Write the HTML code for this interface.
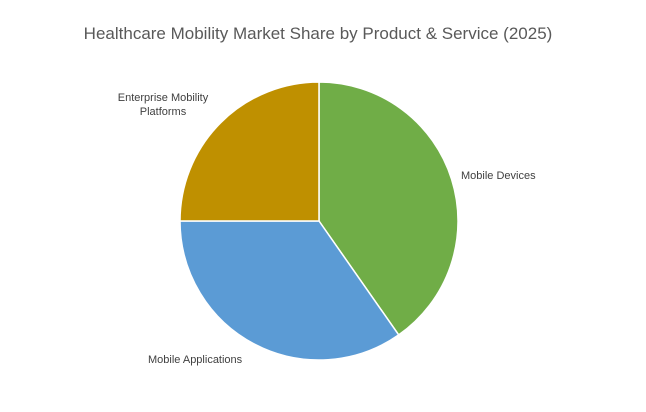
<!DOCTYPE html>
<html><head><meta charset="utf-8"><style>
body{margin:0;background:#fff;}
svg{display:block;font-family:"Liberation Sans",sans-serif;}
</style></head><body>
<svg width="646" height="412" viewBox="0 0 646 412">
<rect width="646" height="412" fill="#fff"/>
<text x="318" y="39" text-anchor="middle" font-size="17" fill="#595959">Healthcare Mobility Market Share by Product &amp; Service (2025)</text>
<g stroke="#fff" stroke-width="1.5">
<path d="M319,221 L319,82 A139,139 0 0 1 398.7,334.9 Z" fill="#70AD47"/>
<path d="M319,221 L398.7,334.9 A139,139 0 0 1 180,221 Z" fill="#5B9BD5"/>
<path d="M319,221 L180,221 A139,139 0 0 1 319,82 Z" fill="#BF9000"/>
</g>
<g font-size="11" fill="#404040">
<text x="461" y="179">Mobile Devices</text>
<text x="148" y="363">Mobile Applications</text>
<text x="163" y="101" text-anchor="middle">Enterprise Mobility</text>
<text x="163" y="115" text-anchor="middle">Platforms</text>
</g>
</svg>
</body></html>
